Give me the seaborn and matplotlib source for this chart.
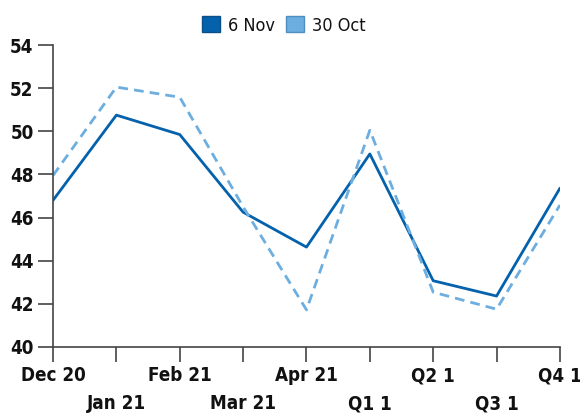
import matplotlib
matplotlib.use("Agg")
import matplotlib.pyplot as plt
from matplotlib.patches import Patch
import seaborn as sns
import pandas as pd

periods = ["Dec 20", "Jan 21", "Feb 21", "Mar 21", "Apr 21", "Q1 1", "Q2 1", "Q3 1", "Q4 1"]
nov6 = [46.8, 50.75, 49.85, 46.25, 44.63, 48.95, 43.07, 42.36, 47.36]
oct30 = [47.95, 52.05, 51.58, 46.5, 41.72, 50.05, 42.54, 41.75, 46.58]
series_names = ["6 Nov", "30 Oct"]
y_ticks = [40, 42, 44, 46, 48, 50, 52, 54]

dark_blue = "#0461AC"
light_blue = "#6CAEE0"

df = pd.DataFrame({
    "idx": list(range(len(periods))) * 2,
    "value": nov6 + oct30,
    "series": [series_names[0]] * len(periods) + [series_names[1]] * len(periods),
})

sns.set_style("ticks")
plt.rcParams["font.family"] = ["DejaVu Sans"]

fig = plt.figure(figsize=(5.8, 4.17), dpi=100)
ax = fig.add_axes([0.0914, 0.168, 0.874, 0.724])

sns.lineplot(
    data=df, x="idx", y="value", hue="series", style="series",
    palette={series_names[0]: dark_blue, series_names[1]: light_blue},
    dashes={series_names[0]: "", series_names[1]: (3.5, 2.2)},
    linewidth=2.0, ax=ax, legend=False, sort=False,
)

tick_font = dict(family="DejaVu Sans", stretch="condensed", weight="bold", size=13.5)

ax.set_xlim(0, len(periods) - 1)
ax.set_ylim(40, 54)
ax.set_yticks(y_ticks)
ax.set_yticklabels([str(v) for v in y_ticks], fontdict=tick_font)
ax.set_xticks(range(len(periods)))
ax.set_xticklabels(
    [p if i % 2 == 0 else "\n" + p for i, p in enumerate(periods)],
    fontdict=tick_font, linespacing=1.6,
)
ax.set_xlabel("")
ax.set_ylabel("")

# Only left and bottom axis lines, with long outward ticks
sns.despine(ax=ax)
for side in ("left", "bottom"):
    ax.spines[side].set_color("#444444")
    ax.spines[side].set_linewidth(1.2)
ax.tick_params(axis="y", length=11, width=1.2, color="#444444", pad=3, labelcolor="#111111")
ax.tick_params(axis="x", length=11, width=1.2, color="#444444", pad=3, labelcolor="#111111")

handles = [Patch(facecolor=dark_blue, edgecolor="#0B4F88"),
           Patch(facecolor=light_blue, edgecolor="#4F8FC0")]
leg = fig.legend(handles, series_names, loc="upper center", bbox_to_anchor=(0.49, 1.0),
                 ncol=2, frameon=False, handlelength=1.0, handleheight=1.0,
                 handletextpad=0.45, columnspacing=0.6,
                 prop=dict(family="DejaVu Sans", stretch="condensed", size=13))
for t in leg.get_texts():
    t.set_color("#111111")

fig.savefig("out.png", dpi=100)
